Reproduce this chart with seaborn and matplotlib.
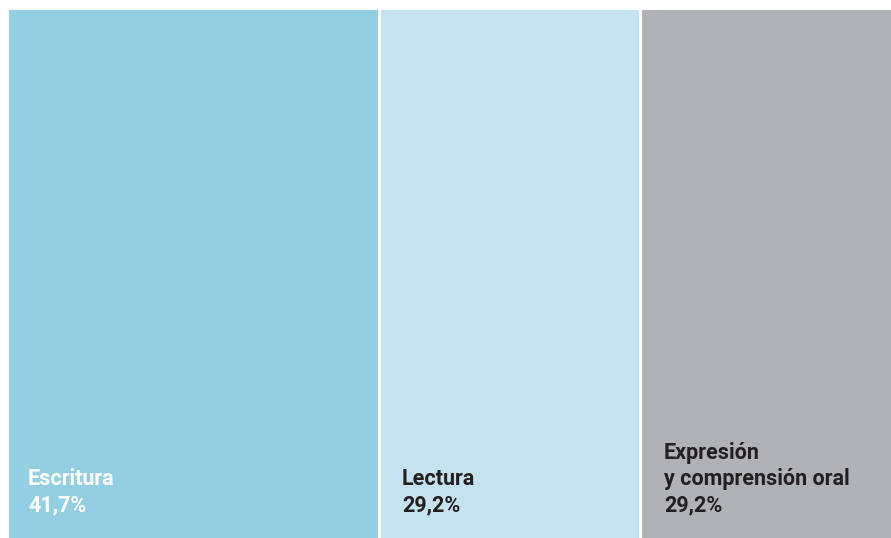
import matplotlib
matplotlib.use("Agg")
import matplotlib.pyplot as plt
import seaborn as sns
import numpy as np
import pandas as pd

# Share of each skill area (%)
categories = ["Escritura", "Lectura", "Expresión\ny comprensión oral"]
values = [41.7, 29.2, 29.2]
colors = ["#93CEE3", "#C4E3EF", "#B1B2B6"]
text_colors = ["#FFFFFF", "#231F20", "#231F20"]

sns.set_theme(style="white")
plt.rcParams["font.family"] = ["Roboto", "DejaVu Sans"]

W, H, DPI = 891, 538, 100
fig = plt.figure(figsize=(W / DPI, H / DPI), dpi=DPI)
left_px, top_px = 6.5, 8.0
ax = fig.add_axes([left_px / W, 0, (W - left_px) / W, (H - top_px) / H])

vals = np.array(values)
ends = np.cumsum(vals)
starts = ends - vals

# Stacked single bar: draw cumulative totals from the largest down so each
# segment shows through; white edges give the gaps between blocks.
for i in range(len(vals) - 1, -1, -1):
    df = pd.DataFrame({"total": [ends[i]], "row": [""]})
    sns.barplot(data=df, x="total", y="row", orient="h", color=colors[i],
                saturation=1, width=1.0, edgecolor="white", linewidth=2.2,
                ax=ax)

px_per_unit = 8.94
ax.set_xlim(0, (W - left_px) / px_per_unit)
ax.set_ylim(0.49, -0.5)
ax.axis("off")

offsets = [21.5, 22.5, 23.5]
for i, (cat, v) in enumerate(zip(categories, values)):
    label = f"{cat}\n{v:.1f}%".replace(".", ",")
    ax.annotate(label, xy=(starts[i], 0), xycoords=("data", "axes fraction"),
                xytext=(offsets[i], 22), textcoords="offset pixels",
                ha="left", va="bottom", fontsize=15.5, fontweight="bold",
                color=text_colors[i], linespacing=1.24)

fig.savefig("out.png", dpi=DPI)
